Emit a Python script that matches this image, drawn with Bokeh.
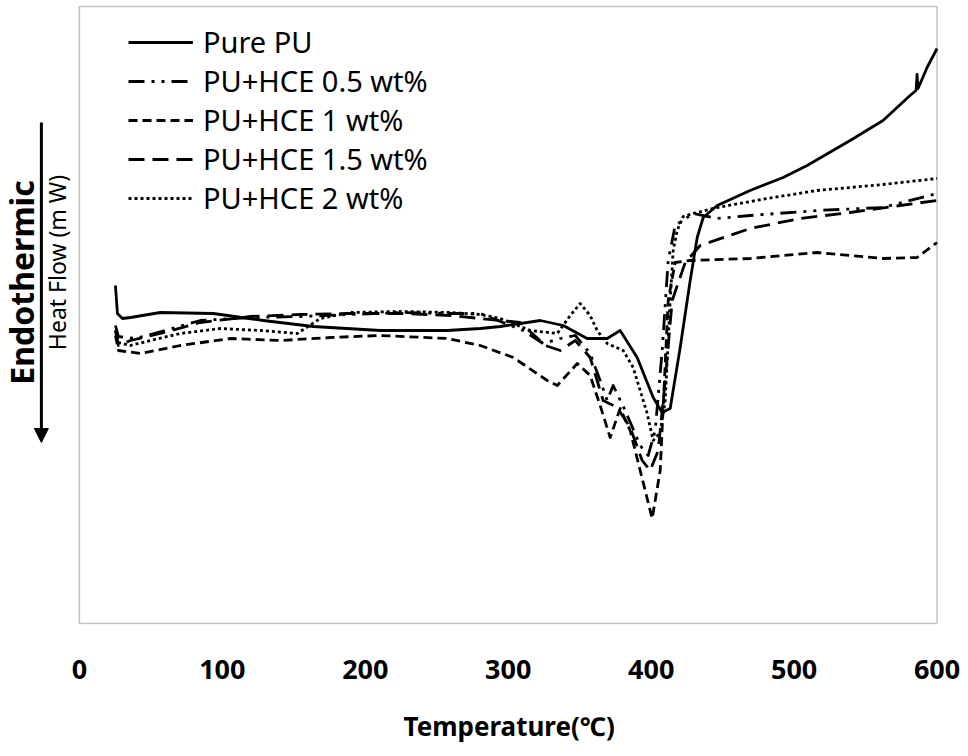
import math
from bokeh.plotting import figure
from bokeh.models import (Range1d, Legend, LegendItem, Label, Arrow, NormalHead,
                          FixedTicker, BoxAnnotation, Title)
from bokeh.embed import file_html
from bokeh.resources import INLINE

# ---- data (temperature in degC, heat flow in arbitrary units) ----
pure_t = [25.2, 26.6, 30.1, 35.7, 56.6, 93.7, 128.7, 163.6, 210.5, 257.3, 280.4, 294.4, 322.4, 338.5,
          355.2, 369.2, 378.3, 390.2, 401.4, 407.7, 413.3, 420.3, 427.3, 432.2, 436.4, 446.2, 469.2,
          492.3, 509.1, 539.2, 562.2, 581.1, 585.3, 586.0, 586.7, 593.0, 600.0]
pure_y = [33.8, 31.0, 30.5, 30.6, 31.1, 31.0, 30.3, 29.7, 29.3, 29.3, 29.5, 29.7, 30.3, 29.8,
          28.5, 28.5, 29.3, 26.6, 22.6, 21.1, 21.5, 27.6, 34.3, 38.6, 40.6, 41.8, 43.3,
          44.6, 45.8, 48.3, 50.3, 52.8, 53.3, 54.9, 53.5, 55.6, 57.5]

hce05_t = [25.2, 27.3, 39.2, 60.1, 84.6, 119.6, 154.5, 189.5, 224.5, 259.4, 280.4, 310.5, 324.5, 336.4,
           346.9, 357.3, 364.3, 369.2, 373.4, 381.8, 392.3, 397.9, 402.8, 407.7, 411.9, 416.8, 429.4,
           446.2, 469.2, 516.1, 562.2, 600.0]
hce05_y = [29.8, 28.7, 28.5, 29.3, 30.3, 30.6, 30.7, 30.9, 31.1, 31.0, 31.0, 29.3, 28.0, 28.5,
           28.8, 27.0, 24.3, 22.3, 23.8, 21.3, 17.8, 16.8, 19.3, 27.3, 36.3, 39.8, 41.0,
           40.5, 40.8, 41.3, 41.6, 43.0]

hce1_t = [25.2, 27.3, 42.7, 70.6, 105.6, 140.6, 175.5, 210.5, 257.3, 280.4, 303.5, 327.3, 334.3, 348.3,
          357.3, 364.3, 371.3, 378.3, 385.3, 392.3, 400.7, 406.3, 411.9, 416.8, 427.3, 469.2, 516.1,
          562.2, 586.0, 600.0]
hce1_y = [28.8, 27.3, 27.0, 27.8, 28.5, 28.3, 28.6, 28.8, 28.5, 27.8, 26.6, 24.3, 23.8, 26.0,
          24.8, 21.8, 18.6, 21.5, 19.3, 15.3, 10.5, 15.3, 32.3, 36.1, 36.3, 36.5, 37.1,
          36.5, 36.6, 38.1]

hce15_t = [25.2, 27.3, 35.7, 56.6, 84.6, 119.6, 154.5, 189.5, 224.5, 259.4, 280.4, 308.4, 325.9, 336.4,
           346.9, 357.3, 366.4, 376.2, 385.3, 393.7, 399.3, 404.9, 409.8, 414.7, 423.8, 434.3, 469.2,
           504.2, 539.2, 574.1, 600.0]
hce15_y = [29.3, 27.8, 28.3, 29.0, 30.1, 30.7, 30.9, 31.0, 31.0, 30.8, 30.5, 30.1, 27.8, 27.3,
           28.3, 26.6, 22.3, 21.6, 19.6, 16.3, 15.3, 17.3, 24.3, 32.3, 36.1, 37.8, 39.5,
           40.5, 41.1, 41.8, 42.3]

hce2_t = [25.2, 27.3, 35.7, 49.7, 70.6, 98.6, 126.6, 152.4, 168.5, 189.5, 224.5, 259.4, 280.4, 294.4,
          315.4, 334.3, 343.4, 350.3, 357.3, 362.2, 369.2, 380.4, 387.4, 392.3, 397.2, 401.4, 406.3,
          409.8, 413.3, 415.4, 418.2, 422.4, 429.4, 446.2, 481.1, 516.1, 562.2, 600.0]
hce2_y = [29.3, 28.1, 27.8, 28.3, 29.0, 29.5, 29.3, 29.0, 30.5, 31.1, 31.2, 31.1, 30.9, 30.5,
          29.3, 29.0, 30.8, 32.0, 30.8, 29.3, 28.0, 27.3, 25.6, 23.3, 21.0, 18.3, 19.1,
          22.3, 32.3, 37.3, 39.3, 40.7, 41.0, 41.6, 42.5, 43.3, 43.9, 44.5]

series_names = ["Pure PU", "PU+HCE 0.5 wt%", "PU+HCE 1 wt%", "PU+HCE 1.5 wt%", "PU+HCE 2 wt%"]
x_ticks = [0, 100, 200, 300, 400, 500, 600]

FONT = "Noto Sans"

# The canvas frame extends left of 0 degC so the y-axis captions live inside it;
# the visible plot box (0..600 degC) is drawn as a box annotation.
p = figure(frame_width=938, frame_height=619,
           min_border_left=0, min_border_right=22, min_border_top=5, min_border_bottom=127,
           x_range=Range1d(-55.2, 601), y_range=Range1d(-0.1, 61.8),
           y_axis_location=None, output_backend="svg", toolbar_location=None)
p.xgrid.visible = False
p.ygrid.visible = False
p.outline_line_color = None
p.background_fill_color = "white"
p.border_fill_color = "white"

p.add_layout(BoxAnnotation(left=0, right=600, bottom=0, top=61.7,
                           fill_alpha=0, line_color="#333333", line_width=1.5))

ax = p.xaxis[0]
ax.ticker = FixedTicker(ticks=x_ticks)
ax.axis_line_color = None
ax.major_tick_line_color = None
ax.minor_tick_line_color = None
ax.major_label_standoff = 29
ax.major_label_text_font = FONT
ax.major_label_text_font_style = "bold"
ax.major_label_text_font_size = "27px"
ax.major_label_text_color = "black"

# x-axis title, centred under the 0..600 box (not under the wider canvas frame)
p.add_layout(Title(text="Temperature(℃)", align="left", offset=403, standoff=48,
                   text_font=FONT, text_font_style="bold", text_font_size="26px",
                   text_color="black"), "below")

styles = [None, "16 7 3 7 3 7", "9 5", "16 8", "3 3"]
data = [(pure_t, pure_y), (hce05_t, hce05_y), (hce1_t, hce1_y), (hce15_t, hce15_y), (hce2_t, hce2_y)]
items = []
for name, (t, y), dash in zip(series_names, data, styles):
    kw = dict(line_color="black", line_width=2.8, line_join="round")
    if dash:
        kw["line_dash"] = dash
    r = p.line(t, y, **kw)
    items.append(LegendItem(label=name, renderers=[r]))

legend = Legend(items=items, location=(128, 407), padding=0, margin=0,
                glyph_width=65, glyph_height=30, label_height=30, spacing=0,
                label_standoff=10,
                label_text_font=FONT, label_text_font_size="29px", label_text_color="black",
                border_line_color=None, background_fill_alpha=0)
p.add_layout(legend)

# y-axis captions and arrow
p.add_layout(Label(x=-40.5, y=34.1, text="Endothermic", angle=math.pi / 2,
                   text_align="center", text_baseline="middle",
                   text_font=FONT, text_font_style="bold", text_font_size="32px",
                   text_color="black"))
p.add_layout(Label(x=-15.4, y=36.1, text="Heat Flow (m W)", angle=math.pi / 2,
                   text_align="center", text_baseline="middle",
                   text_font=FONT, text_font_size="23px", text_color="black"))
p.add_layout(Arrow(x_start=-26.6, y_start=50.1, x_end=-26.6, y_end=18.1,
                   line_width=3, line_color="black",
                   end=NormalHead(size=14, fill_color="black", line_color="black")))

open("out.html", "w").write(file_html(p, INLINE))
